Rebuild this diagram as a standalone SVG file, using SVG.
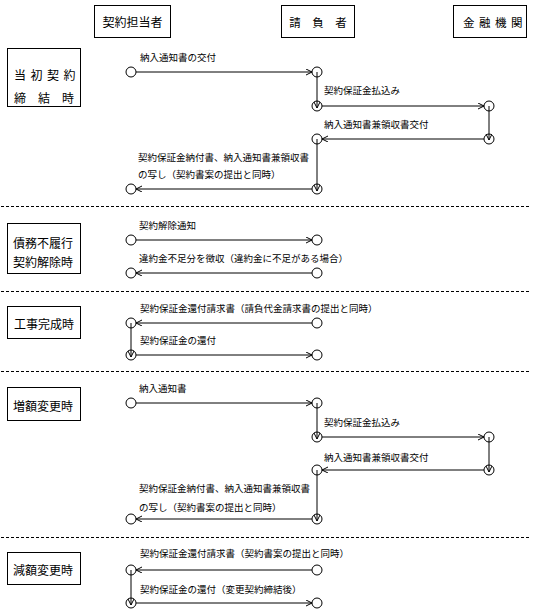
<svg xmlns="http://www.w3.org/2000/svg" width="533" height="612" viewBox="0 0 533 612">
<defs>
<marker id="ah" markerWidth="8" markerHeight="8" refX="6" refY="3" orient="auto" markerUnits="userSpaceOnUse">
<path d="M0,0 L6,3 L0,6" fill="none" stroke="#000" stroke-width="1"/>
</marker>
<style>
.box{fill:#fff;stroke:#000;stroke-width:1}
.t{font-family:"Noto Sans CJK JP","Noto Sans CJK SC",sans-serif;fill:#000;dominant-baseline:central}
.h{font-size:11.5px}
.s{font-size:12px}
.l{font-size:9.5px}
.c{fill:none;stroke:#000;stroke-width:1}
.a{stroke:#000;stroke-width:1;fill:none;marker-end:url(#ah)}
.d{stroke:#000;stroke-width:1;stroke-dasharray:3 2}
</style>
</defs>
<rect width="533" height="612" fill="#fff"/>

<g id="actor-keiyaku">
<rect class="box" x="94.5" y="5.5" width="76" height="32"/>
<text class="t s" x="132.5" y="21.5" text-anchor="middle">契約担当者</text>
</g>
<g id="actor-ukeoi">
<rect class="box" x="281.5" y="5.5" width="73" height="32"/>
<text class="t h" x="318" y="21.5" text-anchor="middle">請　負　者</text>
</g>
<g id="actor-kinyu">
<rect class="box" x="453.5" y="5.5" width="73" height="32"/>
<text class="t h" x="463" y="21.5" letter-spacing="4.5">金融機関</text>
</g>

<g id="phase-1">
<rect class="box" x="7.5" y="48.5" width="73" height="58"/>
<text class="t s" x="14" y="74" letter-spacing="4.5">当初契約</text>
<text class="t s" x="14" y="97">締　結　時</text>
</g>
<g id="phase-2">
<rect class="box" x="7.5" y="223.5" width="73" height="50"/>
<text class="t s" x="13" y="242">債務不履行</text>
<text class="t s" x="13" y="261">契約解除時</text>
</g>
<g id="phase-3">
<rect class="box" x="7.5" y="306.5" width="73" height="32"/>
<text class="t s" x="14" y="323">工事完成時</text>
</g>
<g id="phase-4">
<rect class="box" x="7.5" y="387.5" width="73" height="33"/>
<text class="t s" x="13" y="405">増額変更時</text>
</g>
<g id="phase-5">
<rect class="box" x="7.5" y="552.5" width="73" height="32"/>
<text class="t s" x="13" y="569">減額変更時</text>
</g>

<g id="separators">
<line class="d" x1="1" y1="206.5" x2="531" y2="206.5"/>
<line class="d" x1="1" y1="291.5" x2="531" y2="291.5"/>
<line class="d" x1="1" y1="371.5" x2="531" y2="371.5"/>
<line class="d" x1="1" y1="537.5" x2="531" y2="537.5"/>
</g>

<g id="nodes">
<circle class="c" cx="131" cy="72" r="5"/>
<circle class="c" cx="317" cy="72" r="5"/>
<circle class="c" cx="317" cy="106" r="5"/>
<circle class="c" cx="489" cy="106" r="5"/>
<circle class="c" cx="489" cy="139" r="5"/>
<circle class="c" cx="317" cy="139" r="5"/>
<circle class="c" cx="317" cy="189" r="5"/>
<circle class="c" cx="131" cy="189" r="5"/>

<circle class="c" cx="131" cy="240" r="5"/>
<circle class="c" cx="317" cy="240" r="5"/>
<circle class="c" cx="317" cy="273" r="5"/>
<circle class="c" cx="131" cy="273" r="5"/>

<circle class="c" cx="317" cy="323" r="5"/>
<circle class="c" cx="131" cy="323" r="5"/>
<circle class="c" cx="131" cy="355" r="5"/>
<circle class="c" cx="317" cy="355" r="5"/>

<circle class="c" cx="131" cy="403" r="5"/>
<circle class="c" cx="317" cy="403" r="5"/>
<circle class="c" cx="317" cy="437" r="5"/>
<circle class="c" cx="489" cy="437" r="5"/>
<circle class="c" cx="489" cy="470" r="5"/>
<circle class="c" cx="317" cy="470" r="5"/>
<circle class="c" cx="317" cy="519" r="5"/>
<circle class="c" cx="131" cy="519" r="5"/>

<circle class="c" cx="317" cy="570" r="5"/>
<circle class="c" cx="131" cy="570" r="5"/>
<circle class="c" cx="131" cy="603" r="5"/>
<circle class="c" cx="317" cy="603" r="5"/>
</g>

<g id="connectors">
<line class="a" x1="136" y1="72" x2="312" y2="72"/>
<line class="a" x1="317" y1="72" x2="317" y2="108"/>
<line class="a" x1="322" y1="106" x2="484" y2="106"/>
<line class="a" x1="489" y1="106" x2="489" y2="140"/>
<line class="a" x1="484" y1="139" x2="322" y2="139"/>
<line class="a" x1="317" y1="139" x2="317" y2="191"/>
<line class="a" x1="312" y1="189" x2="136" y2="189"/>

<line class="a" x1="136" y1="240" x2="312" y2="240"/>
<line class="a" x1="312" y1="273" x2="136" y2="273"/>

<line class="a" x1="312" y1="323" x2="136" y2="323"/>
<line class="a" x1="131" y1="323" x2="131" y2="357"/>
<line class="a" x1="136" y1="355" x2="312" y2="355"/>

<line class="a" x1="136" y1="403" x2="312" y2="403"/>
<line class="a" x1="317" y1="403" x2="317" y2="439"/>
<line class="a" x1="322" y1="437" x2="484" y2="437"/>
<line class="a" x1="489" y1="437" x2="489" y2="472"/>
<line class="a" x1="484" y1="470" x2="322" y2="470"/>
<line class="a" x1="317" y1="470" x2="317" y2="521"/>
<line class="a" x1="312" y1="519" x2="136" y2="519"/>

<line class="a" x1="312" y1="570" x2="136" y2="570"/>
<line class="a" x1="131" y1="570" x2="131" y2="605"/>
<line class="a" x1="136" y1="603" x2="312" y2="603"/>
</g>

<g id="labels">
<text class="t l" x="140" y="57">納入通知書の交付</text>
<text class="t l" x="324" y="90">契約保証金払込み</text>
<text class="t l" x="324" y="124">納入通知書兼領収書交付</text>
<text class="t l" x="138" y="157">契約保証金納付書、納入通知書兼領収書</text>
<text class="t l" x="138" y="174">の写し（契約書案の提出と同時）</text>

<text class="t l" x="139" y="225">契約解除通知</text>
<text class="t l" x="139" y="258">違約金不足分を徴収（違約金に不足がある場合）</text>

<text class="t l" x="140" y="308">契約保証金還付請求書（請負代金請求書の提出と同時）</text>
<text class="t l" x="140" y="340">契約保証金の還付</text>

<text class="t l" x="139" y="388">納入通知書</text>
<text class="t l" x="324" y="422">契約保証金払込み</text>
<text class="t l" x="324" y="457">納入通知書兼領収書交付</text>
<text class="t l" x="139" y="488">契約保証金納付書、納入通知書兼領収書</text>
<text class="t l" x="139" y="507">の写し（契約書案の提出と同時）</text>

<text class="t l" x="140" y="553">契約保証金還付請求書（契約書案の提出と同時）</text>
<text class="t l" x="140" y="589">契約保証金の還付（変更契約締結後）</text>
</g>
</svg>
